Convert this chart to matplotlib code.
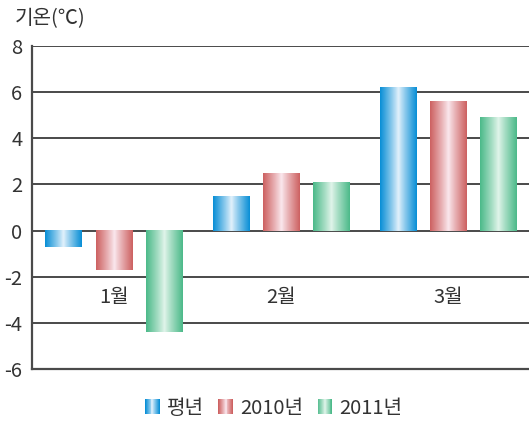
import numpy as np
import matplotlib
matplotlib.use('Agg')
import matplotlib.pyplot as plt
from matplotlib.colors import to_rgb
from matplotlib.patches import Rectangle
from matplotlib.legend_handler import HandlerBase

plt.rcParams['font.family'] = ['Noto Sans CJK KR', 'DejaVu Sans']
plt.rcParams['axes.unicode_minus'] = False

# 데이터
months = ['1월', '2월', '3월']
series = ['평년', '2010년', '2011년']
temp_normal = [-0.7, 1.5, 6.2]
temp_2010 = [-1.7, 2.5, 5.6]
temp_2011 = [-4.4, 2.1, 4.9]
y_ticks = [-6, -4, -2, 0, 2, 4, 6, 8]

edge_colors = ['#0a8fd6', '#cd6262', '#4dba8a']
light_colors = ['#e4f2fc', '#fbe9ef', '#e2f5eb']


def gradient_rgb(edge, light, n=64):
    e = np.array(to_rgb(edge))
    l = np.array(to_rgb(light))
    t = np.abs(np.linspace(-1, 1, n)) ** 0.9
    return l[None, :] + (e - l)[None, :] * t[:, None]


class GradientHandler(HandlerBase):
    def __init__(self, edge, light):
        super().__init__()
        self.edge = edge
        self.light = light

    def create_artists(self, legend, orig_handle, xdescent, ydescent,
                       width, height, fontsize, trans):
        cols = gradient_rgb(self.edge, self.light, 16)
        w = height
        x0 = -xdescent + (width - w)
        step = w / len(cols)
        arts = []
        for i, c in enumerate(cols):
            arts.append(Rectangle((x0 + i * step, -ydescent), step * 1.05, height,
                                  facecolor=c, edgecolor='none', transform=trans))
        return arts


fig = plt.figure(figsize=(5.29, 4.22), dpi=100)
ax = fig.add_axes([0.0605, 0.1256, 0.9395, 0.7654])

x = np.arange(len(months))
offset = 0.3
width = 0.22
all_values = [temp_normal, temp_2010, temp_2011]

for k, vals in enumerate(all_values):
    grad = gradient_rgb(edge_colors[k], light_colors[k])[None, :, :]
    for i, v in enumerate(vals):
        xc = x[i] + (k - 1) * offset
        ax.imshow(grad, extent=[xc - width / 2, xc + width / 2, min(0, v), max(0, v)],
                  aspect='auto', zorder=3, interpolation='bilinear')

for i, m in enumerate(months):
    ax.text(x[i], -2.9, m, ha='center', va='center', fontsize=14.5, color='#333333')

ax.set_xlim(-0.49, 2.48)
ax.set_ylim(-6, 8)
ax.set_yticks(y_ticks)
ax.set_yticklabels([str(t) for t in y_ticks], fontsize=14.5, color='#333333')
ax.set_xticks([])
ax.tick_params(axis='y', length=0, pad=7)
ax.grid(axis='y', color='#4a4a4a', linewidth=1.4, zorder=1)
ax.set_axisbelow(True)
for s in ['top', 'right']:
    ax.spines[s].set_visible(False)
for s in ['left', 'bottom']:
    ax.spines[s].set_color('#4a4a4a')
    ax.spines[s].set_linewidth(1.6)

fig.text(0.028, 0.955, '기온(℃)', fontsize=14.5, color='#333333', ha='left', va='center')

handles = [Rectangle((0, 0), 1, 1) for _ in series]
handler_map = {h: GradientHandler(edge_colors[k], light_colors[k]) for k, h in enumerate(handles)}
fig.legend(handles, series, handler_map=handler_map, loc='center',
           bbox_to_anchor=(0.517, 0.033), ncol=3, frameon=False, fontsize=14.5,
           handlelength=0.75, handleheight=0.75, handletextpad=0.35, columnspacing=0.7,
           labelcolor='#333333')

fig.savefig('out.png', dpi=100)
